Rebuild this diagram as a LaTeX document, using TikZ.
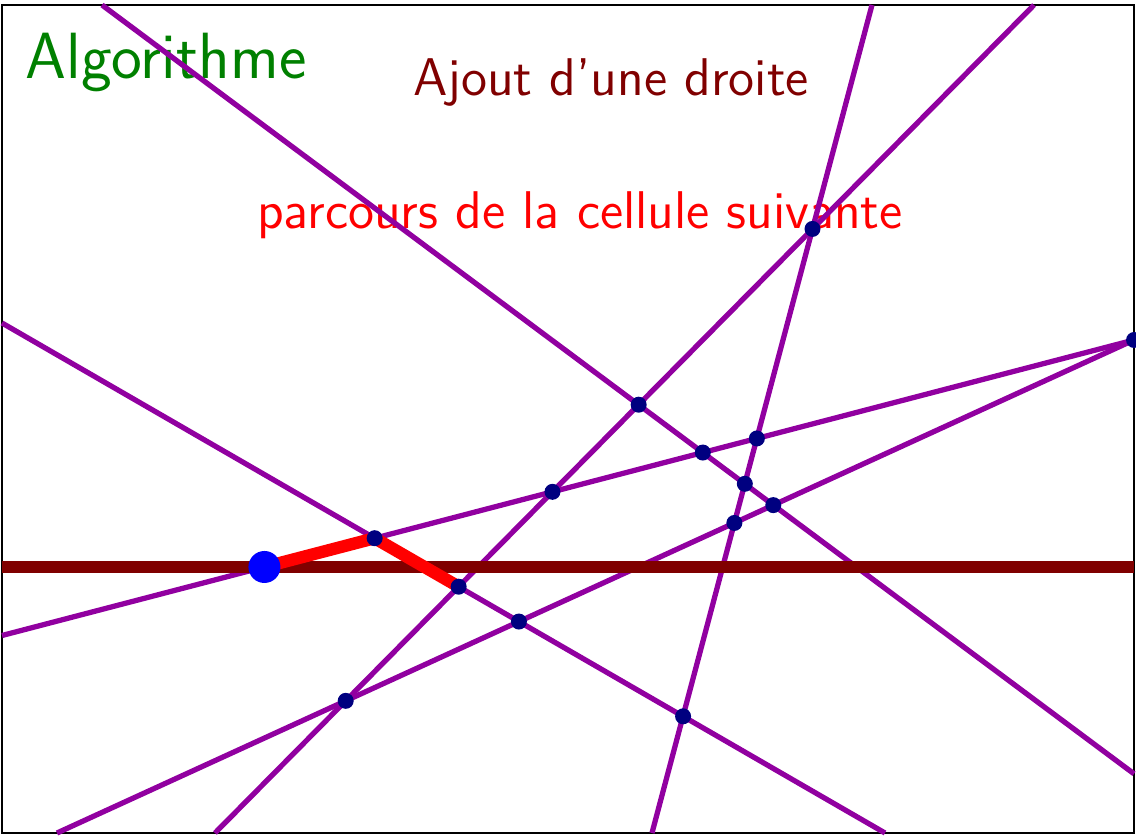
\documentclass[tikz,border=0pt]{standalone}
\renewcommand{\familydefault}{\sfdefault}
\begin{document}
\begin{tikzpicture}[droite/.style={color={rgb,255:red,145;green,0;blue,160},line width=1.5pt},
  pt/.style={fill={rgb,255:red,0;green,0;blue,128}},
  every node/.style={inner sep=0pt}]
  \useasboundingbox (0,0) rectangle (11.36,8.39);
  \draw[thin] (0.02,0.06) rectangle (11.34,8.34);
  \node[anchor=base west,text={rgb,255:red,0;green,128;blue,0},font=\fontsize{18.6}{22}\selectfont] (titre) at (0.25,7.61) {Algorithme};
  \node[anchor=base,text={rgb,255:red,128;green,0;blue,0},font=\fontsize{15.1}{18}\selectfont] (sujet) at (6.11,7.44) {Ajout d'une droite};
  \node[anchor=base,text=red,font=\fontsize{15.1}{18}\selectfont] (etape) at (5.80,6.11) {parcours de la cellule suivante};
  \coordinate (a1) at (1.02,8.34);  \coordinate (a2) at (11.34,0.652);
  \coordinate (b1) at (0.02,5.16);  \coordinate (b2) at (8.85,0.06);
  \coordinate (c1) at (0.02,2.035); \coordinate (c2) at (11.34,4.99);
  \coordinate (d1) at (0.57,0.06);  \coordinate (d2) at (11.34,4.99);
  \coordinate (e1) at (2.15,0.06);  \coordinate (e2) at (10.34,8.34);
  \coordinate (f1) at (6.52,0.06);  \coordinate (f2) at (8.72,8.34);
  \coordinate (h1) at (0.02,2.72);  \coordinate (h2) at (11.34,2.72);
  \foreach \l in {a,b,c,d,e,f}
    \draw[droite] (\l1) -- (\l2);
  \draw[line width=3.5pt,color={rgb,255:red,128;green,0;blue,0}] (h1) -- (h2);
  \coordinate (depart) at (intersection of c1--c2 and h1--h2);
  \coordinate (bc) at (intersection of b1--b2 and c1--c2);
  \coordinate (be) at (intersection of b1--b2 and e1--e2);
  \draw[line width=3.5pt,red] (depart) -- (bc) -- (be);
  \foreach \p/\q in {b/c,b/e,b/d,b/f,d/e,c/e,a/e,a/c,c/f,a/f,d/f,a/d,e/f,c/d}
    \fill[pt] (intersection of \p1--\p2 and \q1--\q2) circle (0.08);
  \fill[blue] (depart) circle (0.16);
\end{tikzpicture}
\end{document}
